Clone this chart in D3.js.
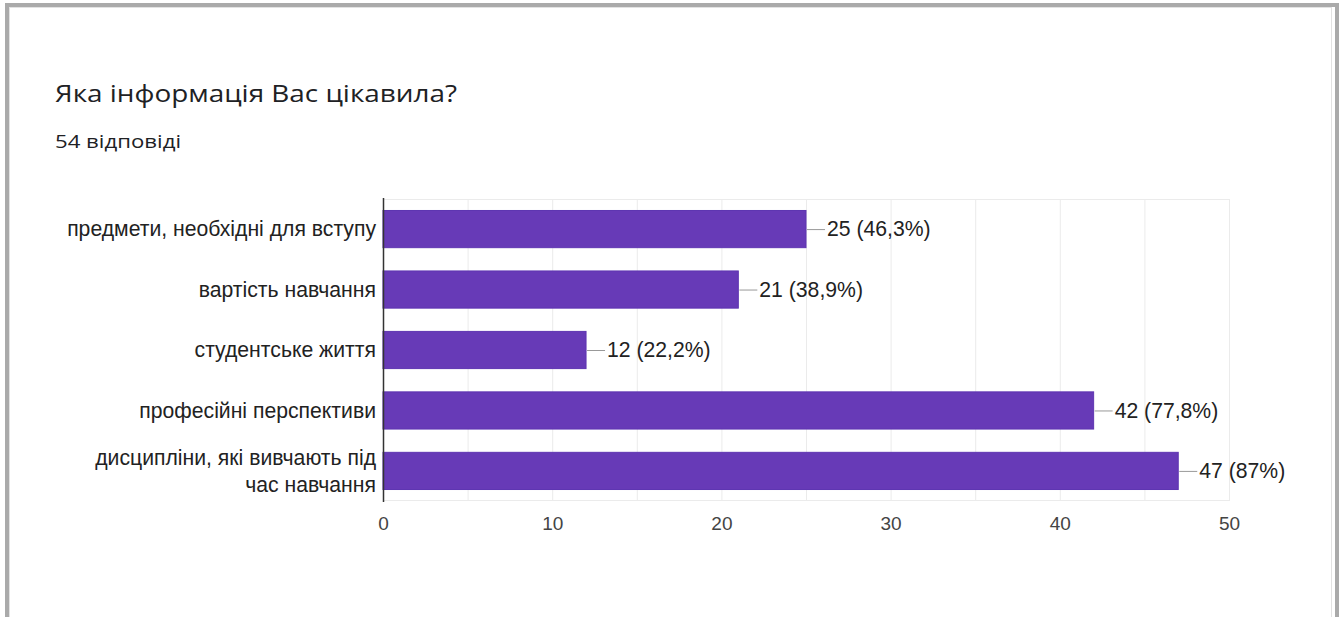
<!DOCTYPE html>
<html><head><meta charset="utf-8">
<script src="https://cdn.jsdelivr.net/npm/d3@7"></script>
<style>body{margin:0;background:#fff;}svg{display:block;}</style>
</head><body>
<svg id="c" width="1340" height="617"></svg>
<script>
const categories = ["предмети, необхідні для вступу","вартість навчання","студентське життя","професійні перспективи","дисципліни, які вивчають під час навчання"];
const categoryLines = [["предмети, необхідні для вступу"],["вартість навчання"],["студентське життя"],["професійні перспективи"],["дисципліни, які вивчають під","час навчання"]];
const values = [25,21,12,42,47];
const percents = ["46,3%","38,9%","22,2%","77,8%","87%"];
const xTicks = [0,10,20,30,40,50];
const gridTicks = [0,5,10,15,20,25,30,35,40,45,50];
const title = "Яка інформація Вас цікавила?";
const subtitle = "54 відповіді";

const svg = d3.select("#c");
// frame
svg.append("rect").attr("x",7).attr("y",5).attr("width",1330).attr("height",640).attr("fill","none").attr("stroke","#aaa").attr("stroke-width",4);
svg.append("rect").attr("x",9.5).attr("y",7.5).attr("width",1322).attr("height",640).attr("fill","none").attr("stroke","#e2e2e2").attr("stroke-width",1);

svg.append("text").attr("x",55).attr("y",102).attr("font-family","'Open Sans', sans-serif").attr("font-size",23.5).attr("fill","#202124")
  .attr("textLength",402).attr("lengthAdjust","spacingAndGlyphs").text(title);
svg.append("text").attr("x",55).attr("y",148).attr("font-family","'Open Sans', sans-serif").attr("font-size",19).attr("fill","#202124")
  .attr("textLength",126).attr("lengthAdjust","spacingAndGlyphs").text(subtitle);

const x = d3.scaleLinear().domain([0,50]).range([383,1229]);
const y = d3.scaleBand().domain(categories).range([199,501]).paddingInner(0.385).paddingOuter(0.19);

const font = "'Liberation Sans', Arial, sans-serif";
// grid
svg.append("g").selectAll("line").data(gridTicks).join("line")
  .attr("x1",d=>x(d)+0.5).attr("x2",d=>x(d)+0.5).attr("y1",199).attr("y2",501)
  .attr("stroke","#ebebeb").attr("stroke-width",1);
svg.append("line").attr("x1",383).attr("x2",1229).attr("y1",199.5).attr("y2",199.5).attr("stroke","#ebebeb");
svg.append("line").attr("x1",383).attr("x2",1229).attr("y1",500.5).attr("y2",500.5).attr("stroke","#ebebeb");

// bars
svg.append("g").selectAll("rect").data(values).join("rect")
  .attr("x",x(0)).attr("y",(d,i)=>y(categories[i]))
  .attr("width",d=>x(d)-x(0)).attr("height",y.bandwidth())
  .attr("fill","#673ab7").attr("stroke","#5e35b1").attr("stroke-width",1);

// axis line
svg.append("line").attr("x1",383.5).attr("x2",383.5).attr("y1",198).attr("y2",502).attr("stroke","#333").attr("stroke-width",1.5);

// x tick labels
const xAxis = d3.axisBottom(x).tickValues(xTicks).tickSize(0).tickPadding(0);
const gx = svg.append("g").attr("transform","translate(0,516)").call(xAxis);
gx.select(".domain").remove();
gx.selectAll("text").attr("font-family",font).attr("font-size",19).attr("fill","#444").attr("dy","0.71em");

// category labels
const yl = svg.append("g");
categoryLines.forEach((lines,i)=>{
  const cy = y(categories[i]) + y.bandwidth()/2;
  const lh = 27;
  const t = yl.append("text").attr("text-anchor","end").attr("font-family",font).attr("font-size",21.2).attr("fill","#222");
  lines.forEach((ln,j)=>{
    t.append("tspan").attr("x",376).attr("y",cy + (j-(lines.length-1)/2)*lh).attr("dy","0.35em").text(ln);
  });
});

// value labels
const vl = svg.append("g");
values.forEach((v,i)=>{
  const cy = y(categories[i]) + y.bandwidth()/2;
  vl.append("line").attr("x1",x(v)+1).attr("x2",x(v)+19).attr("y1",cy+0.5).attr("y2",cy+0.5).attr("stroke","#999").attr("stroke-width",1);
  vl.append("text").attr("x",x(v)+21).attr("y",cy).attr("dy","0.35em").attr("font-family",font).attr("font-size",21.2).attr("fill","#222")
    .text(v+" ("+percents[i]+")");
});
</script>
</body></html>
